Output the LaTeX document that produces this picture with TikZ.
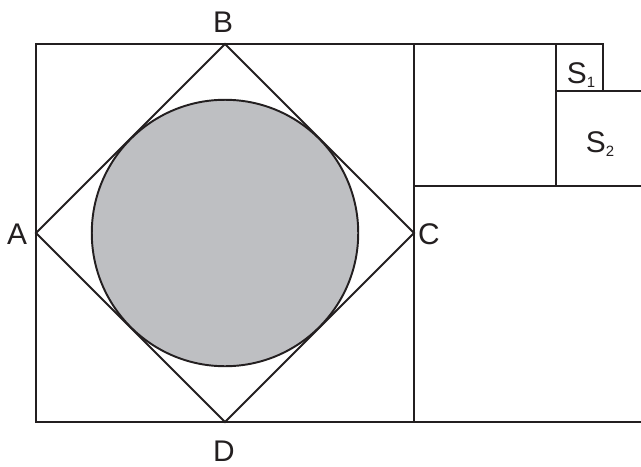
\documentclass[tikz,border=0pt]{standalone}
\usepackage{fontspec}
\setmainfont{Liberation Sans}
\usetikzlibrary{positioning}
\definecolor{discgray}{RGB}{190,191,194}
\definecolor{inkline}{RGB}{35,31,32}
\newcommand{\lowsub}[1]{\raisebox{-2.8pt}{\fontsize{8.5}{10}\selectfont #1}}

\begin{document}
\begin{tikzpicture}[x=0.02cm, y=-0.02cm, line width=1.1pt, draw=inkline,
	every node/.style={font=\fontsize{17}{20}\selectfont, text=inkline, inner sep=0pt}]
	\useasboundingbox (0,0) rectangle (641,466);
	% big square and the square ABCD inside it
	\coordinate (tl) at (36,44);
	\coordinate (br) at (414,422);
	\coordinate (A) at (36,233);
	\coordinate (B) at (225,44);
	\coordinate (C) at (414,233);
	\coordinate (D) at (225,422);
	\coordinate (O) at (225,233);
	\fill[discgray] (O) circle (2.665cm);
	\draw (O) circle (2.665cm);
	\draw (tl) rectangle (br);
	\draw (A) -- (B) -- (C) -- (D) -- cycle;
	% smaller squares on the right
	\coordinate (q1) at (556,44);
	\coordinate (q2) at (603,44);
	\coordinate (q3) at (603,91);
	\coordinate (q4) at (556,91);
	\coordinate (q5) at (556,186);
	\coordinate (q6) at (414,186);
	\coordinate (e1) at (641,91);
	\coordinate (e2) at (641,186);
	\coordinate (e3) at (641,422);
	\draw (B) -- (q2) -- (q3);
	\draw (q1) -- (q5);
	\draw (q4) -- (e1);
	\draw (q6) -- (e2);
	\draw (br) -- (e3);
	% labels
	\node (labA) at (17,234) {A};
	\node (labB) at (223,22) {B};
	\node (labC) at (429,234) {C};
	\node (labD) at (224,451) {D};
	\node (labS1) [anchor=base west] at (566,83) {S\lowsub{1}};
	\node (labS2) [anchor=base west] at (585,152) {S\lowsub{2}};
\end{tikzpicture}
\end{document}
